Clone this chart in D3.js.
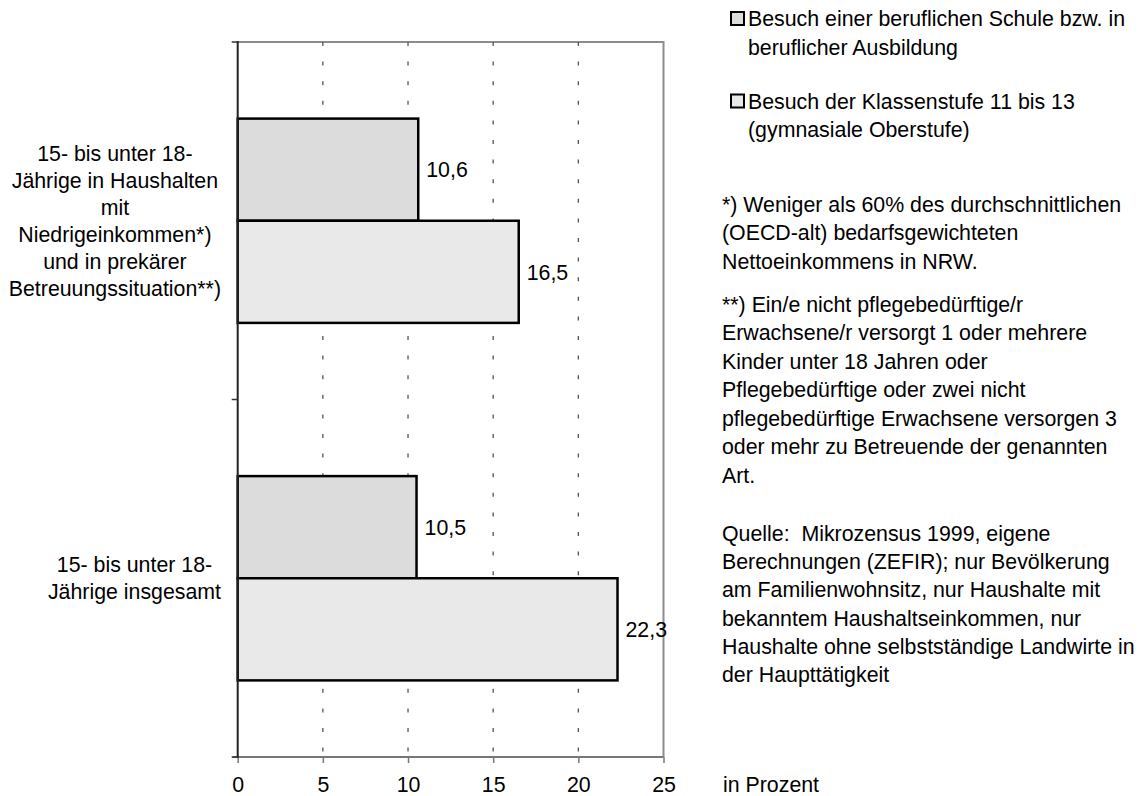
<!DOCTYPE html>
<html lang="de">
<head>
<meta charset="utf-8">
<title>Schulbesuch 15- bis unter 18-Jähriger</title>
<script src="https://cdn.jsdelivr.net/npm/d3@7/dist/d3.min.js"></script>
<style>
  html, body { margin: 0; padding: 0; background: #fff; }
  svg { display: block; font-family: "Liberation Sans", Arial, sans-serif; }
  text { fill: #000; font-size: 21.33px; white-space: pre; }
</style>
</head>
<body>
<svg id="chart" width="1139" height="796"></svg>
<script>
// Categories (top to bottom) and the lines their axis labels break into
const categories = ["niedrig", "gesamt"];
const categoryLabels = [
  ["15- bis unter 18-", "Jährige in Haushalten", "mit", "Niedrigeinkommen*)", "und in prekärer", "Betreuungssituation**)"],
  ["15- bis unter 18-", "Jährige insgesamt"]
];

// Series values in percent, one per category
const seriesNames = ["beruflich", "oberstufe"];
const beruflicheSchule = [10.6, 10.5];
const oberstufe = [16.5, 22.3];

// Axis ticks
const xTicks = [0, 5, 10, 15, 20, 25];
const xUnitLabel = "in Prozent";

// Legend entries (line-broken)
const legendLabels = [
  ["Besuch einer beruflichen Schule bzw. in", "beruflicher Ausbildung"],
  ["Besuch der Klassenstufe 11 bis 13", "(gymnasiale Oberstufe)"]
];

// Footnotes and source
const footnote1 = ["*) Weniger als 60% des durchschnittlichen", "(OECD-alt) bedarfsgewichteten", "Nettoeinkommens in NRW."];
const footnote2 = ["**) Ein/e nicht pflegebedürftige/r", "Erwachsene/r versorgt 1 oder mehrere", "Kinder unter 18 Jahren oder", "Pflegebedürftige oder zwei nicht", "pflegebedürftige Erwachsene versorgen 3", "oder mehr zu Betreuende der genannten", "Art."];
const sourceNote = ["Quelle:  Mikrozensus 1999, eigene", "Berechnungen (ZEFIR); nur Bevölkerung", "am Familienwohnsitz, nur Haushalte mit", "bekanntem Haushaltseinkommen, nur", "Haushalte ohne selbstständige Landwirte in", "der Haupttätigkeit"];

const fills = { beruflich: "#dcdcdc", oberstufe: "#e9e9e9" };

const data = categories.map((c, i) => ({
  key: c,
  values: [
    { series: "beruflich", value: beruflicheSchule[i] },
    { series: "oberstufe", value: oberstufe[i] }
  ]
}));

const svg = d3.select("#chart");

const plot = { left: 237.7, right: 663.5, top: 42, bottom: 757 };

const x = d3.scaleLinear().domain([0, 25]).range([plot.left, plot.right]);
const y = d3.scaleBand().domain(categories).range([plot.top, plot.bottom]).paddingInner(0).paddingOuter(0);
const ySeries = d3.scaleBand().domain(seriesNames).range([0, y.bandwidth()]).paddingInner(0).paddingOuter(0.75);

// Plot area frame (top and right edges)
svg.append("path")
  .attr("d", `M${plot.left},${plot.top}H${plot.right}V${plot.bottom}`)
  .attr("fill", "none")
  .attr("stroke", "#8c8c8c")
  .attr("stroke-width", 2);

// Dotted vertical gridlines
svg.append("g")
  .selectAll("line")
  .data(xTicks.filter(t => t > 0 && t < 25))
  .join("line")
  .attr("x1", d => x(d)).attr("x2", d => x(d))
  .attr("y1", plot.top).attr("y2", plot.bottom)
  .attr("stroke", "#555")
  .attr("stroke-width", 1.3)
  .attr("stroke-dasharray", "4 15.6");

// Bars
const groups = svg.append("g")
  .selectAll("g")
  .data(data)
  .join("g")
  .attr("transform", d => `translate(0,${y(d.key)})`);

groups.selectAll("rect")
  .data(d => d.values)
  .join("rect")
  .attr("x", x(0))
  .attr("y", d => ySeries(d.series))
  .attr("width", d => x(d.value) - x(0))
  .attr("height", ySeries.bandwidth())
  .attr("fill", d => fills[d.series])
  .attr("stroke", "#000")
  .attr("stroke-width", 2.5);

// Value labels
const fmt = v => d3.format(".1f")(v).replace(".", ",");
groups.selectAll("text.value")
  .data(d => d.values)
  .join("text")
  .attr("class", "value")
  .attr("x", d => x(d.value) + 8)
  .attr("y", d => ySeries(d.series) + ySeries.bandwidth() / 2)
  .attr("dy", "0.36em")
  .text(d => fmt(d.value));

// Bottom axis
const xAxis = d3.axisBottom(x).tickValues(xTicks).tickSize(6).tickPadding(14).tickFormat(d3.format("d"));
const gx = svg.append("g")
  .attr("transform", `translate(0,${plot.bottom})`)
  .call(xAxis);
gx.select(".domain").attr("stroke", "#777").attr("stroke-width", 2)
  .attr("d", `M${plot.left - 5},0H${plot.right}`);
gx.selectAll(".tick line").attr("stroke", "#777").attr("stroke-width", 1.5);
gx.selectAll(".tick text").style("font-size", "21.33px").attr("font-family", null).attr("fill", "#000");

// Left axis: ticks at category boundaries
const boundaries = [plot.top, y(categories[1]), plot.bottom];
svg.append("line")
  .attr("x1", plot.left).attr("x2", plot.left)
  .attr("y1", plot.top - 1).attr("y2", plot.bottom + 1)
  .attr("stroke", "#222").attr("stroke-width", 2);
svg.append("g").selectAll("line")
  .data(boundaries)
  .join("line")
  .attr("x1", plot.left - 6).attr("x2", plot.left)
  .attr("y1", d => d).attr("y2", d => d)
  .attr("stroke", "#333").attr("stroke-width", 1.5);

// Category labels: centred lines, block right edge near the axis
const lineH = 27;
categoryLabels.forEach((lines, i) => {
  const cy = y(categories[i]) + y.bandwidth() / 2;
  const t = svg.append("text").attr("text-anchor", "middle");
  lines.forEach((ln, j) => {
    t.append("tspan").text(ln)
      .attr("y", cy + (j - (lines.length - 1) / 2) * lineH)
      .attr("dy", "0.36em");
  });
  const w = d3.max(t.selectAll("tspan").nodes(), n => n.getComputedTextLength());
  const cx = 221 - w / 2;
  t.selectAll("tspan").attr("x", cx);
});

// Unit label
svg.append("text")
  .attr("x", 723).attr("y", plot.bottom + 20).attr("dy", "0.71em")
  .text(xUnitLabel);

// Legend
const legendY = [18.5, 101];
legendLabels.forEach((lines, i) => {
  const ly = legendY[i];
  svg.append("rect")
    .attr("x", 731).attr("y", ly - 6.5).attr("width", 13).attr("height", 13)
    .attr("fill", fills[seriesNames[i]])
    .attr("stroke", "#000").attr("stroke-width", 2);
  const t = svg.append("text");
  lines.forEach((ln, j) => {
    t.append("tspan").text(ln).attr("x", 748).attr("y", ly + j * 28.5).attr("dy", "0.36em");
  });
});

// Note blocks
function block(lines, x0, y0, lh) {
  const t = svg.append("text");
  lines.forEach((ln, j) => {
    t.append("tspan").text(ln).attr("x", x0).attr("y", y0 + j * lh).attr("dy", "0.36em");
  });
}
block(footnote1, 722, 204, 28.5);
block(footnote2, 722, 304, 28.5);
block(sourceNote, 722, 533, 28.3);
</script>
</body>
</html>
